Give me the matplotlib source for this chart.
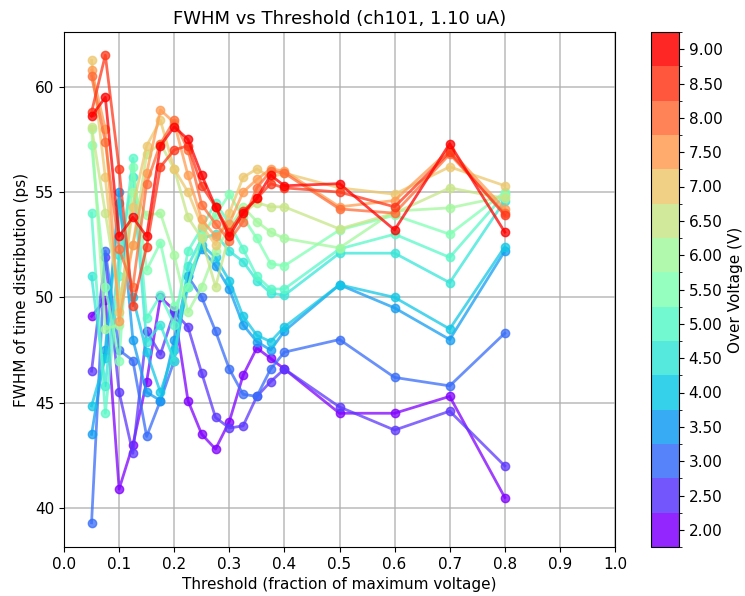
import numpy as np
import matplotlib
matplotlib.use("Agg")
import matplotlib.pyplot as plt
from matplotlib.colors import BoundaryNorm, ListedColormap

thresholds = [0.05, 0.075, 0.1, 0.125, 0.15, 0.175, 0.2, 0.225, 0.25, 0.275,
              0.3, 0.325, 0.35, 0.375, 0.4, 0.5, 0.6, 0.7, 0.8]

over_voltages = [2.0, 2.5, 3.0, 3.5, 4.0, 4.5, 5.0, 5.5, 6.0, 6.5, 7.0, 7.5, 8.0, 8.5, 9.0]

fwhm_2_0 = [49.1, 49.9, 40.9, 43.0, 46.0, 50.0, 49.4, 45.1, 43.5, 42.8, 44.1, 46.3, 47.6, 47.1, 46.6, 44.5, 44.5, 45.3, 40.5]
fwhm_2_5 = [46.5, 51.9, 45.5, 42.6, 48.4, 47.3, 49.3, 48.6, 46.4, 44.3, 43.8, 43.9, 45.3, 46.0, 46.6, 44.8, 43.7, 44.6, 42.0]
fwhm_3_0 = [39.3, 52.2, 47.5, 47.0, 43.4, 45.1, 47.0, 51.0, 50.0, 48.4, 46.6, 45.4, 45.3, 46.6, 47.4, 48.0, 46.2, 45.8, 48.3]
fwhm_3_5 = [43.5, 47.5, 55.0, 48.0, 45.5, 45.1, 48.0, 51.0, 52.3, 51.5, 50.4, 48.7, 47.9, 47.5, 48.4, 50.6, 49.5, 48.0, 52.2]
fwhm_4_0 = [44.85, 47.1, 54.5, 50.0, 47.4, 45.5, 47.5, 50.5, 52.5, 51.9, 50.8, 49.1, 48.2, 47.9, 48.6, 50.6, 50.0, 48.5, 52.4]
fwhm_4_5 = [51.0, 45.8, 52.0, 55.7, 47.9, 48.7, 47.0, 51.5, 52.8, 53.0, 52.2, 51.7, 50.8, 50.2, 50.1, 52.1, 52.1, 50.7, 54.6]
fwhm_5_0 = [54.0, 44.5, 51.0, 56.6, 49.0, 50.1, 48.7, 52.2, 53.3, 54.5, 53.5, 52.3, 51.0, 50.4, 50.4, 52.3, 53.0, 51.9, 54.9]
fwhm_5_5 = [57.25, 50.5, 47.0, 56.2, 51.3, 52.6, 49.6, 50.5, 52.9, 53.9, 54.9, 53.8, 52.8, 51.6, 51.5, 53.2, 53.9, 53.0, 55.0]
fwhm_6_0 = [58.0, 48.5, 48.7, 55.0, 53.9, 54.0, 52.0, 49.3, 50.5, 52.2, 53.3, 54.3, 53.6, 53.1, 52.8, 52.35, 54.1, 54.25, 54.8]
fwhm_6_5 = [58.1, 54.0, 50.0, 52.5, 56.8, 57.3, 56.1, 53.8, 52.8, 50.5, 53.0, 54.0, 54.5, 54.3, 54.3, 53.25, 54.0, 55.2, 54.7]
fwhm_7_0 = [61.25, 55.7, 49.3, 54.3, 57.2, 58.4, 56.1, 55.0, 53.4, 52.5, 54.0, 55.7, 56.1, 55.7, 55.9, 55.2, 54.9, 56.2, 55.3]
fwhm_7_5 = [60.8, 58.0, 48.9, 52.5, 55.9, 58.9, 58.3, 55.8, 53.7, 52.9, 53.5, 55.0, 55.6, 56.1, 56.0, 54.3, 54.6, 57.0, 54.2]
fwhm_8_0 = [60.5, 57.4, 52.3, 50.5, 55.4, 57.3, 58.4, 57.0, 54.4, 53.5, 52.7, 53.6, 55.2, 56.0, 55.9, 54.2, 54.0, 56.8, 54.0]
fwhm_8_5 = [58.8, 61.5, 56.1, 49.6, 52.4, 56.2, 57.0, 57.2, 55.3, 54.3, 53.1, 54.1, 54.7, 55.4, 55.2, 55.0, 54.3, 56.9, 53.9]
fwhm_9_0 = [58.6, 59.5, 52.9, 53.8, 52.9, 57.2, 58.1, 57.5, 55.8, 54.3, 52.9, 54.0, 54.7, 55.8, 55.3, 55.4, 53.2, 57.3, 53.1]

all_fwhm = [fwhm_2_0, fwhm_2_5, fwhm_3_0, fwhm_3_5, fwhm_4_0, fwhm_4_5, fwhm_5_0,
            fwhm_5_5, fwhm_6_0, fwhm_6_5, fwhm_7_0, fwhm_7_5, fwhm_8_0, fwhm_8_5, fwhm_9_0]

n = len(over_voltages)
colors = plt.cm.rainbow(np.linspace(0, 1, n))
cmap = ListedColormap(colors)
bounds = np.arange(over_voltages[0] - 0.25, over_voltages[-1] + 0.5, 0.5)
norm = BoundaryNorm(bounds, cmap.N)

fig = plt.figure(figsize=(7.45, 5.96), dpi=100)
ax = fig.add_axes([64 / 745, 1 - 547 / 596, 551 / 745, 515 / 596])
cax = fig.add_axes([651 / 745, 1 - 547 / 596, 28 / 745, 515 / 596])

for ov, vals in zip(over_voltages, all_fwhm):
    ax.plot(thresholds, vals, '-o', color=cmap(norm(ov)), alpha=0.75,
            linewidth=2, markersize=6)

ax.set_xlim(0, 1)
ax.set_ylim(38.15, 62.6)
ax.set_xticks(np.arange(0, 1.01, 0.1))
ax.set_yticks([40, 45, 50, 55, 60])
ax.grid(True, color='#b0b0b0', linewidth=1.2, alpha=0.8)
ax.set_title('FWHM vs Threshold (ch101, 1.10 uA)', fontsize=13)
ax.set_xlabel('Threshold (fraction of maximum voltage)', fontsize=11)
ax.set_ylabel('FWHM of time distribution (ps)', fontsize=11)
ax.tick_params(labelsize=11)

sm = plt.cm.ScalarMappable(cmap=cmap, norm=norm)
sm.set_array([])
cb = fig.colorbar(sm, cax=cax, ticks=over_voltages, format='%.2f', alpha=0.85)
cb.ax.set_yticks(bounds, minor=True)
cb.set_label('Over Voltage (V)', fontsize=11)
cb.ax.tick_params(labelsize=11)

fig.savefig('out.png', dpi=100)
